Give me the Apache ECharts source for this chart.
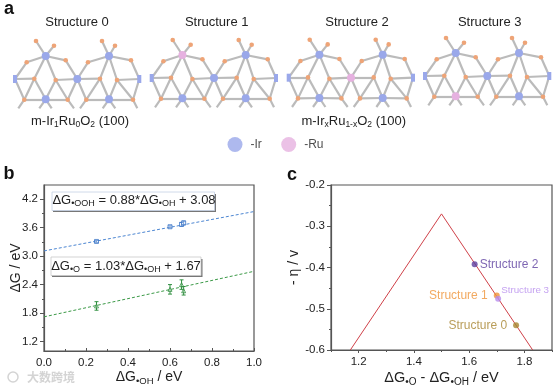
<!DOCTYPE html>
<html><head><meta charset="utf-8">
<style>html,body{margin:0;padding:0;background:#fff}#c{width:554px;height:389px}</style>
<script src="https://cdn.jsdelivr.net/npm/echarts@6/dist/echarts.min.js"></script>
</head><body><div id="c"></div>
<script>
// ---------- data ----------
const structureNames = ['Structure 0','Structure 1','Structure 2','Structure 3'];
const structureShiftX = [0, 136.7, 273.7, 410];
const structureShiftY = [0, -1, -1.3, -3];
const ruSiteIndex = [null, 0, 1, 4];          // which metal site is Ru in each structure
// metal sites: schematic positions
const metalSites = [[45.7,56],[77.3,79],[15,79],[139.3,79],[45.7,99.3],[109,56],[109,99.3]];
const oxygenSites = [[36,41],[54,45.7],[102,41],[115,45.7],[26.7,62.3],[65.7,60.3],[88,62.3],[131,60.3],
  [34.3,78.7],[55.7,80],[100,78.7],[117,80],[24.3,99.7],[67.7,99.7],[86.3,99.7],[133,99.7]];
const tailSites = [[18.3,108.3],[39.3,108.3],[51.7,108.3],[74,108.3],[80,108.3],[102.7,108.3],[115.3,108.3],[137.3,108.3]];
// bonds: keys of metal(m) + oxygen(o) + tail(t) sites
const bonds = [['m0','o0'],['m0','o1'],['m5','o2'],['m5','o3'],['m0','o4'],['m0','o5'],['m5','o6'],['m5','o7'],
  ['o4','m2'],['o5','m1'],['o6','m1'],['o7','m3'],['m0','o8'],['m0','o9'],['m5','o10'],['m5','o11'],
  ['m2','o8'],['o9','m1'],['m1','o10'],['o11','m3'],
  ['o8','o12'],['o8','m4'],['o9','m4'],['o9','o13'],['m1','o13'],['m1','o14'],['o10','o14'],['o10','m6'],['o11','m6'],['o11','o15'],['m2','o12'],['m3','o15'],
  ['o12','m4'],['m4','o13'],['o14','m6'],['m6','o15'],
  ['o12','t0'],['m4','t1'],['m4','t2'],['o13','t3'],['o14','t4'],['m6','t5'],['m6','t6'],['o15','t7']];

const dGOH = [0.25, 0.60, 0.655, 0.665];
const dGOOH = [3.31, 3.62, 3.67, 3.70];
const dGOOHerr = [0.02, 0.02, 0.04, 0.04];
const dGO = [1.95, 2.30, 2.40, 2.27];
const dGOerr = [0.09, 0.10, 0.10, 0.09];
const fitOOH = [[0, 3.11],[1, 3.94]];
const fitO = [[0, 1.72],[1, 2.68]];
const yTicksB = [1.2,1.8,2.4,3.0,3.6,4.2];
const yMinorB = [1.5,2.1,2.7,3.3,3.9];
const xTicksC = [1.2,1.4,1.6,1.8];
const xMinorC = [1.1,1.3,1.5,1.7,1.9];
const volcano = [[1.17,-0.6],[1.5,-0.27],[1.83,-0.6]];
const structPoints = [[1.77,-0.54],[1.70,-0.468],[1.62,-0.392],[1.705,-0.476]];
const structColors = ['#a8852f','#ef9438','#5d3f9f','#b78ced'];

// ---------- styles ----------
const FF = '"Liberation Sans", Arial, sans-serif';
const axisCol = '#555';
const IR = '#9aa8ea', RU = '#e6b1e0', OX = '#eea477', BOND = '#bbbbbb';
const ink = '#222';

function structureSeries(i){
  const dx = structureShiftX[i], dy = structureShiftY[i];
  const nodes = [], idx = {};
  const add = (key, p, size, color, sym) => {
    idx[key] = nodes.length;
    nodes.push({value:[p[0]+dx, p[1]+dy], symbol:sym||'circle', symbolSize:size, itemStyle:{color}});
  };
  metalSites.forEach((p,k)=>{
    const c = ruSiteIndex[i]===k ? RU : IR;
    if(k===2 || k===3) add('m'+k, p, [4,8], c, 'rect');
    else add('m'+k, p, 8, c);
  });
  oxygenSites.forEach((p,k)=>add('o'+k, p, 4.6, OX));
  tailSites.forEach((p,k)=>add('t'+k, p, 0, BOND));
  return {type:'graph', name:structureNames[i], coordinateSystem:'cartesian2d', xAxisIndex:0, yAxisIndex:0,
    layout:'none', roam:false, silent:true, animation:false, z:3,
    data:nodes, links:bonds.map(b=>({source:idx[b[0]],target:idx[b[1]]})),
    lineStyle:{color:BOND,width:2.2,opacity:1,curveness:0}};
}

function errSeries(xs,ys,es,color,sym,size){
  const rows = xs.map((x,i)=>[x,ys[i],es[i]]);
  return [{type:'custom',xAxisIndex:1,yAxisIndex:1,data:rows,z:4,silent:true,animation:false,
    renderItem:(p,api)=>{
      const x=api.value(0),y=api.value(1),e=api.value(2);
      const a=api.coord([x,y-e]),b=api.coord([x,y+e]);
      const st={stroke:color,lineWidth:1};
      const ln=(x1,y1,x2,y2)=>({type:'line',shape:{x1,y1,x2,y2},style:st});
      return {type:'group',children:[ln(a[0],a[1],b[0],b[1]),ln(a[0]-2,a[1],a[0]+2,a[1]),ln(b[0]-2,b[1],b[0]+2,b[1])]};
    }},
   {type:'scatter',xAxisIndex:1,yAxisIndex:1,data:rows.map(r=>[r[0],r[1]]),symbol:sym,symbolSize:size,z:5,silent:true,animation:false,
    itemStyle:{color:'rgba(255,255,255,0.4)',borderColor:color,borderWidth:1}}];
}

function rich(color,size,sub){
  return {m:{fontFamily:FF,fontSize:size,color},s:{fontFamily:FF,fontSize:sub,color,padding:[sub-1,0,0,0]}};
}
function txt(text,x,y,size,opt={}){
  return {type:'text',z:20,silent:true,style:Object.assign({text,x,y,fontFamily:FF,fontSize:size,fill:ink,align:'center',verticalAlign:'middle'},opt)};
}

const chart = echarts.init(document.getElementById('c'),null,{renderer:'canvas'});
const majorAxis = {
  axisLine:{show:true,lineStyle:{color:axisCol,width:1.2}},
  axisLabel:{fontFamily:FF,fontSize:11.5,color:ink,margin:4},
  splitLine:{show:false},
  nameMoveOverlap:false
};
chart.setOption({
  animation:false,
  backgroundColor:'#fff',
  grid:[
    {left:0,top:0,width:554,height:165,show:false,outerBoundsMode:'none'},
    {left:44,top:185,width:210,height:166,show:true,borderColor:axisCol,borderWidth:1.2,backgroundColor:'transparent',outerBoundsMode:'none'},
    {left:331,top:185,width:221,height:165,show:true,borderColor:axisCol,borderWidth:1.2,backgroundColor:'transparent',outerBoundsMode:'none'}
  ],
  xAxis:[
    {type:'value',gridIndex:0,min:0,max:554,show:false},
    Object.assign({},majorAxis,{type:'value',gridIndex:1,min:0,max:1,interval:0.2,
      axisTick:{inside:true,length:3,lineStyle:{color:axisCol}},
      minorTick:{show:true,splitNumber:2,length:2,lineStyle:{color:axisCol}},
      axisLabel:{fontFamily:FF,fontSize:11.5,color:ink,margin:6,formatter:v=>v.toFixed(1)},
      nameLocation:'middle',nameGap:17,name:'{m|ΔG}{s|•OH}{m| / eV}',nameTextStyle:{rich:rich(ink,14,9.5)}}),
    Object.assign({},majorAxis,{type:'value',gridIndex:2,min:1.1,max:1.9,
      axisTick:{length:3,customValues:xTicksC,lineStyle:{color:axisCol}},
      axisLabel:{fontFamily:FF,fontSize:11.5,color:ink,margin:6,customValues:xTicksC,formatter:v=>v.toFixed(1)},
      nameLocation:'middle',nameGap:18,name:'{m|ΔG}{s|•O}{m| - ΔG}{s|•OH}{m| / eV}',nameTextStyle:{rich:rich(ink,14.5,10)}}),
    {type:'value',gridIndex:2,min:1.1,max:1.9,position:'bottom',axisLine:{show:false},axisLabel:{show:false},splitLine:{show:false},
      axisTick:{length:2,customValues:xMinorC,lineStyle:{color:axisCol}}}
  ],
  yAxis:[
    {type:'value',gridIndex:0,min:0,max:165,inverse:true,show:false},
    Object.assign({},majorAxis,{type:'value',gridIndex:1,min:1,max:4.5,
      axisTick:{length:4,customValues:yTicksB,lineStyle:{color:axisCol}},
      axisLabel:{fontFamily:FF,fontSize:11.5,color:ink,margin:6,customValues:yTicksB,formatter:v=>v.toFixed(1)},
      nameLocation:'middle',nameGap:21,nameRotate:90,name:'ΔG / eV',nameTextStyle:{fontFamily:FF,fontSize:14,color:ink}}),
    {type:'value',gridIndex:1,min:1,max:4.5,position:'left',axisLine:{show:false},axisLabel:{show:false},splitLine:{show:false},
      axisTick:{length:2,customValues:yMinorB,lineStyle:{color:axisCol}}},
    Object.assign({},majorAxis,{type:'value',gridIndex:2,min:-0.6,max:-0.2,interval:0.1,
      axisTick:{length:4,lineStyle:{color:axisCol}},
      minorTick:{show:true,splitNumber:2,length:2,lineStyle:{color:axisCol}},
      axisLabel:{fontFamily:FF,fontSize:11.5,color:ink,margin:6,formatter:v=>v.toFixed(1)},
      nameLocation:'middle',nameGap:30,nameRotate:90,name:'- η / v',nameTextStyle:{fontFamily:FF,fontSize:14,color:ink}})
  ],
  series:[
    ...structureNames.map((_,i)=>structureSeries(i)),
    {type:'scatter',name:'-Ir',xAxisIndex:0,yAxisIndex:0,data:[[235,144.5]],symbolSize:15,itemStyle:{color:IR},silent:true,
      label:{show:true,position:'right',distance:8,formatter:'-Ir',fontFamily:FF,fontSize:12,color:ink}},
    {type:'scatter',name:'-Ru',xAxisIndex:0,yAxisIndex:0,data:[[288.7,144.5]],symbolSize:15,itemStyle:{color:RU},silent:true,
      label:{show:true,position:'right',distance:8,formatter:'-Ru',fontFamily:FF,fontSize:12,color:ink}},
    {type:'line',xAxisIndex:1,yAxisIndex:1,data:fitOOH,showSymbol:false,silent:true,z:3,lineStyle:{color:'#4c86d2',width:1,type:[3,2]}},
    {type:'line',xAxisIndex:1,yAxisIndex:1,data:fitO,showSymbol:false,silent:true,z:3,lineStyle:{color:'#3c9a48',width:1,type:[3,2]}},
    ...errSeries(dGOH,dGOOH,dGOOHerr,'#3f78c8','rect',4),
    ...errSeries(dGOH,dGO,dGOerr,'#2f8f3f','triangle',4),
    {type:'line',xAxisIndex:2,yAxisIndex:3,data:volcano,showSymbol:false,silent:true,z:3,lineStyle:{color:'#cf4048',width:1}},
    ...structPoints.map((p,i)=>({type:'scatter',name:structureNames[i],xAxisIndex:2,yAxisIndex:3,data:[p],symbolSize:6,z:5,silent:true,
      itemStyle:{color:structColors[i]},
      label:{show:true,fontFamily:FF,color:structColors[i],
        fontSize:i===3?9.8:12,
        position:(i===0||i===1)?'left':'right',
        distance:i===0?6:(i===1?6:2),
        offset:i===3?[-2,-9]:[0,0],
        formatter:structureNames[i]}}))
  ],
  graphic:[
    txt('a',9,9,18,{fontWeight:'bold',fill:'#111'}),
    txt('b',9,174,18,{fontWeight:'bold',fill:'#111'}),
    txt('c',292,175,18,{fontWeight:'bold',fill:'#111'}),
    ...structureNames.map((n,i)=>txt(n,[77,216.7,357,489.7][i],22,13)),
    txt('{m|m-Ir}{s|1}{m|Ru}{s|0}{m|O}{s|2}{m| (100)}',80,121,13,{rich:rich(ink,13,8.5)}),
    txt('{m|m-Ir}{s|x}{m|Ru}{s|1-x}{m|O}{s|2}{m| (100)}',353.7,121,13,{rich:rich(ink,13,8.5)}),
    {type:'rect',z:18,silent:true,shape:{x:53,y:194,width:163,height:18},style:{fill:'#777'}},
    {type:'rect',z:19,silent:true,shape:{x:52,y:192,width:162.5,height:18.5},style:{fill:'#fff',stroke:'#c4d0e4',lineWidth:0.8}},
    txt('{m|ΔG}{s|•OOH}{m| = 0.88*ΔG}{s|•OH}{m| + 3.08}',134,200,13,{rich:rich('#3f7fd0',13,9)}),
    {type:'rect',z:18,silent:true,shape:{x:52,y:259,width:150.5,height:18},style:{fill:'#777'}},
    {type:'rect',z:19,silent:true,shape:{x:51,y:257,width:150,height:18.5},style:{fill:'#fff',stroke:'#c8c8c8',lineWidth:0.8}},
    txt('{m|ΔG}{s|•O}{m| = 1.03*ΔG}{s|•OH}{m| + 1.67}',126,266,13,{rich:rich('#2c8a3a',13,9)}),
    txt('大数跨境',51,377,12,{fill:'#d4d4d4',fontFamily:'"Noto Sans CJK SC"',fontWeight:'bold'}),
    {type:'circle',z:20,silent:true,shape:{cx:13,cy:377,r:5},style:{fill:'none',stroke:'#d4d4d4',lineWidth:1.5}}
  ]
});
</script></body></html>
